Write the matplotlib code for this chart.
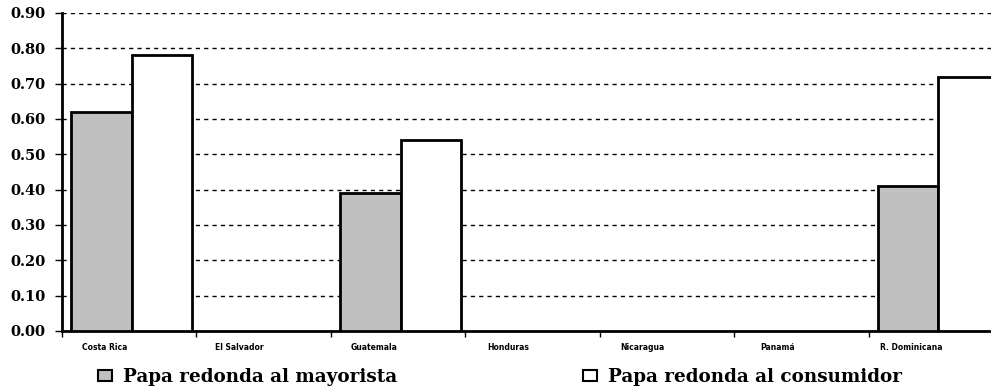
import numpy as np
import matplotlib.pyplot as plt
from matplotlib.patches import Patch

# datos
paises = ['Costa Rica', 'El Salvador', 'Guatemala', 'Honduras',
          'Nicaragua', 'Panamá', 'R. Dominicana']
mayorista = [0.62, np.nan, 0.39, np.nan, np.nan, np.nan, 0.41]
consumidor = [0.78, np.nan, 0.54, np.nan, np.nan, np.nan, 0.72]
yticks = [0.0, 0.1, 0.2, 0.3, 0.4, 0.5, 0.6, 0.7, 0.8, 0.9]

fig = plt.figure(figsize=(9.91, 3.87), dpi=100)
# el eje sigue mas alla del borde derecho, como en el original
ax = fig.add_axes([62 / 991, 1 - 331 / 387, 941 / 991, 318 / 387])

x = np.arange(len(paises))
w = 0.45
ax.bar(x - w / 2 + 0.02, mayorista, w, color='#c0c0c0', edgecolor='black',
       linewidth=2, zorder=3)
ax.bar(x + w / 2 + 0.02, consumidor, w, color='white', edgecolor='black',
       linewidth=2, zorder=3)

ax.set_xlim(-0.5, len(paises) - 0.5)
ax.set_ylim(0, 0.9)
ax.set_yticks(yticks)
ax.set_yticklabels([f'{v:.2f}' for v in yticks], family='DejaVu Serif',
                   fontweight='bold', fontsize=10.5)
ax.yaxis.grid(True, color='black', linestyle=(0, (3, 3)), linewidth=1, zorder=1)

# etiquetas de paises (comprimidas en el original)
ax.set_xticks(x - 0.18)
ax.set_xticklabels(paises, family='Liberation Sans Narrow', fontweight='bold',
                   fontsize=5.5)
ax.tick_params(axis='x', length=0, pad=9)
ax.set_xticks(np.arange(len(paises) + 1) - 0.5, minor=True)
ax.tick_params(axis='x', which='minor', length=4, width=1, direction='out')
ax.tick_params(axis='y', length=5, width=1, direction='out', pad=7)

for s in ['top', 'right']:
    ax.spines[s].set_visible(False)
ax.spines['left'].set_linewidth(2)
ax.spines['bottom'].set_linewidth(2)

prop = {'family': 'DejaVu Serif', 'weight': 'bold', 'size': 13.2}
legend_items = [('#c0c0c0', 'Papa redonda al mayorista', 98),
                ('white', 'Papa redonda al consumidor', 583)]
for color, label, xpos in legend_items:
    h = Patch(facecolor=color, edgecolor='black', linewidth=1.5)
    fig.legend([h], [label], loc='center left',
               bbox_to_anchor=(xpos / 991, 1 - 377 / 387), frameon=False,
               prop=prop, borderpad=0, borderaxespad=0,
               handlelength=0.75, handleheight=0.55, handletextpad=0.6)

fig.savefig('out.png', dpi=100)
